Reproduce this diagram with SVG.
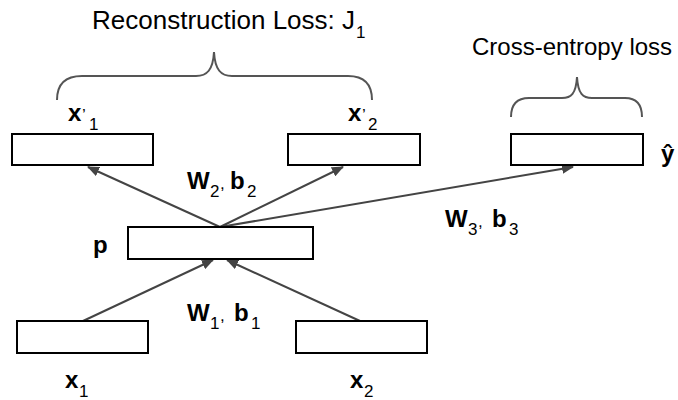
<svg xmlns="http://www.w3.org/2000/svg" width="678" height="400" viewBox="0 0 678 400">
<defs>
<style>
.box{fill:#fff;stroke:#000;stroke-width:2}
.conn{stroke:#444;stroke-width:2;fill:none}
.brace{stroke:#555;stroke-width:2;fill:none}
.t{font-family:"Liberation Sans",Arial,sans-serif;font-size:26px;fill:#000}
.t2{font-family:"Liberation Sans",Arial,sans-serif;font-size:24px;fill:#000}
.b{font-family:"Liberation Sans",Arial,sans-serif;font-size:24px;font-weight:bold;fill:#000}
.s{font-family:"Liberation Sans",Arial,sans-serif;font-size:17px;fill:#000}
</style>
<marker id="ah" viewBox="0 0 12 10" refX="11" refY="5" markerWidth="12" markerHeight="10" markerUnits="userSpaceOnUse" orient="auto">
<path d="M0,0 L12,5 L0,10 Z" fill="#444"/>
</marker>
</defs>
<g id="connectors">
<line class="conn" x1="220" y1="227" x2="88" y2="167" marker-end="url(#ah)"/>
<line class="conn" x1="220" y1="227" x2="343" y2="167" marker-end="url(#ah)"/>
<line class="conn" x1="220" y1="227" x2="573" y2="167" marker-end="url(#ah)"/>
<line class="conn" x1="83" y1="321" x2="213" y2="260" marker-end="url(#ah)"/>
<line class="conn" x1="360" y1="321" x2="227" y2="260" marker-end="url(#ah)"/>
</g>
<g id="braces">
<path class="brace" d="M57,100 C57,85 64,76 82,76 L196,76 C207,76 213,70 214,52 C215,70 221,76 232,76 L348,76 C365,76 372,85 372,100"/>
<path class="brace" d="M511,117 C511,105 516,98 529,98 L562,98 C571,98 576,94 577,77 C578,94 583,98 592,98 L625,98 C637,98 642,105 642,117"/>
</g>
<g id="title-recon">
<text class="t" x="92" y="29">Reconstruction Loss: J</text>
<text class="s" x="356" y="38">1</text>
</g>
<g id="title-ce">
<text class="t2" x="472" y="55">Cross-entropy loss</text>
</g>
<g id="node-x1p">
<rect class="box" x="12" y="134" width="141" height="31"/>
<text class="b" x="68" y="121">x</text>
<text class="s" x="82" y="121">’</text>
<text class="s" x="89" y="130">1</text>
</g>
<g id="node-x2p">
<rect class="box" x="288" y="134" width="132" height="31"/>
<text class="b" x="348" y="121">x</text>
<text class="s" x="362" y="121">’</text>
<text class="s" x="368" y="130">2</text>
</g>
<g id="node-yhat">
<rect class="box" x="511" y="134" width="132" height="31"/>
<text class="b" x="661" y="162">ŷ</text>
</g>
<g id="node-p">
<rect class="box" x="128" y="227" width="185" height="32"/>
<text class="b" x="93" y="253">p</text>
</g>
<g id="node-x1">
<rect class="box" x="17" y="321" width="131" height="32"/>
<text class="b" x="65" y="388">x</text>
<text class="s" x="79" y="397">1</text>
</g>
<g id="node-x2">
<rect class="box" x="296" y="321" width="131" height="32"/>
<text class="b" x="350" y="388">x</text>
<text class="s" x="364" y="397">2</text>
</g>
<g id="label-w2">
<text class="b" x="187" y="189">W</text>
<text class="s" x="210" y="197">2</text>
<text class="s" x="220" y="189">,</text>
<text class="b" x="230" y="189">b</text>
<text class="s" x="247" y="197">2</text>
</g>
<g id="label-w1">
<text class="b" x="187" y="321">W</text>
<text class="s" x="210" y="329">1</text>
<text class="s" x="220" y="321">,</text>
<text class="b" x="234" y="321">b</text>
<text class="s" x="251" y="329">1</text>
</g>
<g id="label-w3">
<text class="b" x="445" y="227">W</text>
<text class="s" x="468" y="235">3</text>
<text class="s" x="478" y="227">,</text>
<text class="b" x="492" y="227">b</text>
<text class="s" x="509" y="235">3</text>
</g>
</svg>
